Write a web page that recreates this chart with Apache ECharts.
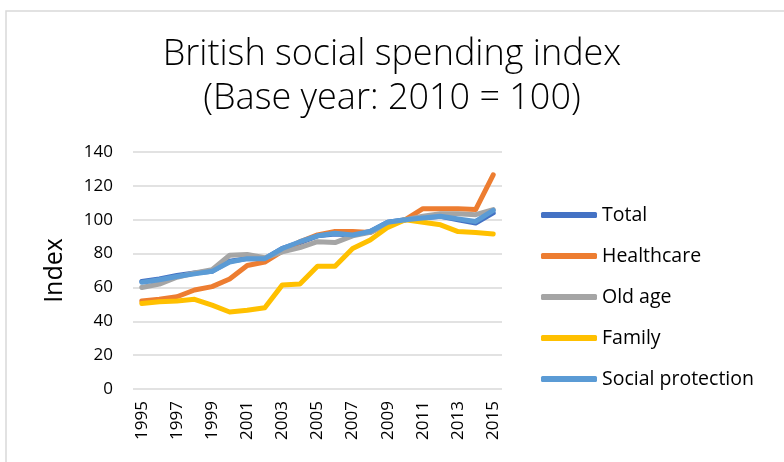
<!DOCTYPE html>
<html>
<head>
<meta charset="utf-8">
<script src="https://cdn.jsdelivr.net/npm/echarts@6/dist/echarts.min.js"></script>
<style>
  html, body { margin: 0; padding: 0; background: #fff; }
  #chart { width: 784px; height: 462px; }
</style>
</head>
<body>
<div id="chart"></div>
<script>
// Years on the category axis
const years = ['1995','1996','1997','1998','1999','2000','2001','2002','2003','2004','2005',
               '2006','2007','2008','2009','2010','2011','2012','2013','2014','2015'];

// Index values, 2010 = 100
const total            = [63.5, 65, 67, 68.5, 69.5, 75.5, 77, 77, 83, 86.5, 90.5, 91.5, 91, 93, 98.5, 100, 101, 102, 100, 98, 104];
const healthcare       = [52, 53, 54.5, 58.5, 60.5, 65, 73, 75, 81.5, 87, 91, 93, 93, 92.5, 97.5, 100, 106.5, 106.5, 106.5, 106, 126.5];
const oldAge           = [60, 62, 66, 68.5, 70.5, 79, 79.5, 77.5, 81, 83.5, 87, 86.5, 90.5, 92.5, 97.5, 100, 102, 103.5, 103.5, 103, 106];
const family           = [50.5, 51.5, 52, 53, 49.5, 45.5, 46.5, 48, 61.5, 62, 72.5, 72.5, 83, 88, 95.5, 100, 98.5, 97, 93, 92.5, 91.5];
const socialProtection = [63, 64.5, 66.5, 68, 69.5, 75, 77, 77, 83, 87, 90.5, 92, 91, 93, 98.5, 100, 101, 102, 100.5, 99, 105.5];

const seriesNames  = ['Total', 'Healthcare', 'Old age', 'Family', 'Social protection'];
const seriesData   = [total, healthcare, oldAge, family, socialProtection];
const seriesColors = ['#4472C4', '#ED7D31', '#A5A5A5', '#FFC000', '#5B9BD5'];

const yTicks = { min: 0, max: 140, interval: 20 };

const FONT = '"Open Sans", Lato, "Noto Sans", sans-serif';

const chart = echarts.init(document.getElementById('chart'), null, { renderer: 'canvas' });

chart.setOption({
  backgroundColor: '#ffffff',
  animation: false,
  color: seriesColors,
  graphic: [{
    type: 'rect',
    shape: { x: 6, y: 11, width: 800, height: 480 },
    style: { fill: 'none', stroke: '#d9d9d9', lineWidth: 1.5 },
    silent: true
  }],
  title: {
    text: 'British social spending index\n(Base year: 2010 = 100)',
    left: 'center',
    top: 28,
    textStyle: {
      fontFamily: FONT,
      fontWeight: 300,
      fontSize: 36,
      lineHeight: 44,
      color: '#000'
    }
  },
  legend: {
    orient: 'vertical',
    left: 536,
    top: 199,
    itemWidth: 56,
    itemHeight: 6,
    itemGap: 19,
    itemTextGap: 3,
    icon: 'roundRect',
    textStyle: { fontFamily: FONT, fontSize: 19.5, color: '#000', lineHeight: 22 },
    data: seriesNames
  },
  grid: { left: 133, right: 282, top: 152, bottom: 73, containLabel: false },
  xAxis: {
    type: 'category',
    data: years,
    boundaryGap: true,
    axisLine: { show: false },
    axisTick: { show: false },
    axisLabel: {
      interval: 1,
      rotate: 90,
      margin: 12,
      fontFamily: FONT,
      fontSize: 17,
      color: '#000'
    }
  },
  yAxis: {
    type: 'value',
    min: yTicks.min,
    max: yTicks.max,
    interval: yTicks.interval,
    name: 'Index',
    nameLocation: 'middle',
    nameGap: 66,
    nameRotate: 90,
    nameTextStyle: { fontFamily: FONT, fontSize: 25, color: '#000' },
    axisLine: { show: false },
    axisTick: { show: false },
    axisLabel: { fontFamily: FONT, fontSize: 17, color: '#000', margin: 20 },
    splitLine: { lineStyle: { color: '#d9d9d9', width: 1.5 } }
  },
  series: seriesNames.map((name, i) => ({
    name: name,
    type: 'line',
    data: seriesData[i],
    symbol: 'none',
    lineStyle: { width: 5, color: seriesColors[i], cap: 'round', join: 'round' },
    itemStyle: { color: seriesColors[i] },
    z: 2 + i
  }))
});
</script>
</body>
</html>
